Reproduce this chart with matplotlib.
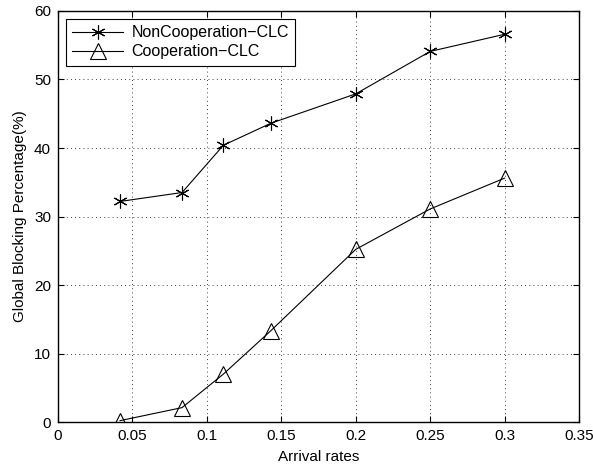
import matplotlib.pyplot as plt
import numpy

plt.rcParams['font.family'] = ['Liberation Sans', 'DejaVu Sans']

# arrival rates and blocking percentages
rates = [1/24, 1/12, 1/9, 1/7, 0.2, 0.25, 0.3]
noncoop = [32.2, 33.5, 40.4, 43.6, 47.9, 54.1, 56.6]
coop = [0.2, 2.1, 7.0, 13.3, 25.2, 31.1, 35.6]

fig = plt.figure(figsize=(5.93, 4.66), dpi=100)
ax = fig.add_axes([0.0978, 0.0944, 0.8786, 0.882])

ax.plot(rates, noncoop, '-', color='black', linewidth=0.8, marker=(6, 2, 0),
        markersize=10, markeredgewidth=0.8, label='NonCooperation\u2212CLC')
ax.plot(rates, coop, '-', color='black', linewidth=0.8, marker='^',
        markersize=11, markerfacecolor='none', markeredgewidth=0.8,
        label='Cooperation\u2212CLC')

# axes configuration
ax.set_xlim(0, 0.35)
ax.set_ylim(0, 60)
ax.set_xticks(numpy.arange(0, 0.351, 0.05))
ax.set_xticklabels(['0', '0.05', '0.1', '0.15', '0.2', '0.25', '0.3', '0.35'])
ax.set_yticks(numpy.arange(0, 61, 10))
ax.tick_params(direction='in', top=True, right=True, labelsize=11, length=4,
               pad=5)
ax.grid(True, linestyle=(0, (1, 4)), color='black', linewidth=0.6)
for spine in ax.spines.values():
    spine.set_linewidth(1.0)

ax.set_xlabel('Arrival rates', fontsize=11, labelpad=5)
ax.set_ylabel('Global Blocking Percentage(%)', fontsize=11, labelpad=5)

leg = ax.legend(loc='upper left', fontsize=11.5, fancybox=False, framealpha=1,
                edgecolor='black', borderaxespad=0.5, handlelength=3.2,
                labelspacing=0.25, borderpad=0.4, handletextpad=0.5)
leg.get_frame().set_linewidth(0.8)

fig.savefig('out.png', dpi=100)
